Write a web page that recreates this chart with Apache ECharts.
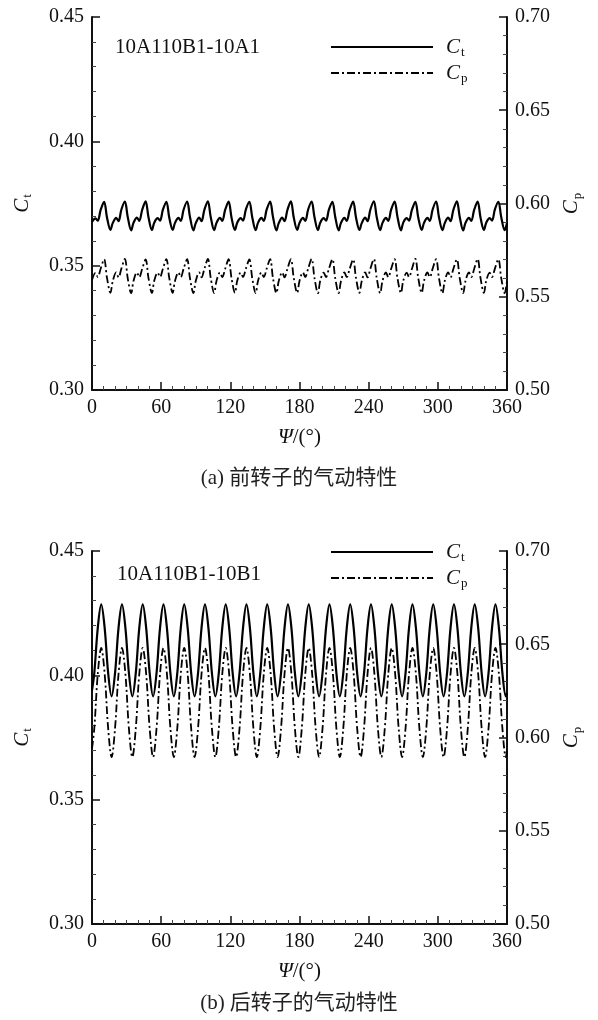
<!DOCTYPE html>
<html>
<head>
<meta charset="utf-8">
<script src="https://cdn.jsdelivr.net/npm/echarts@6/dist/echarts.min.js"></script>
<style>
  html, body { margin: 0; padding: 0; background: #fff; }
  #main { width: 598px; height: 1020px; }
</style>
</head>
<body>
<div id="main"></div>
<script>
// (a) front rotor, Ψ in degrees
const psiA = [
  0, 3, 5, 7.5, 10.5, 13, 16,
  18, 21, 23, 25.5, 28.5, 31, 34,
  36, 39, 41, 43.5, 46.5, 49, 52,
  54, 57, 59, 61.5, 64.5, 67, 70,
  72, 75, 77, 79.5, 82.5, 85, 88,
  90, 93, 95, 97.5, 100.5, 103, 106,
  108, 111, 113, 115.5, 118.5, 121, 124,
  126, 129, 131, 133.5, 136.5, 139, 142,
  144, 147, 149, 151.5, 154.5, 157, 160,
  162, 165, 167, 169.5, 172.5, 175, 178,
  180, 183, 185, 187.5, 190.5, 193, 196,
  198, 201, 203, 205.5, 208.5, 211, 214,
  216, 219, 221, 223.5, 226.5, 229, 232,
  234, 237, 239, 241.5, 244.5, 247, 250,
  252, 255, 257, 259.5, 262.5, 265, 268,
  270, 273, 275, 277.5, 280.5, 283, 286,
  288, 291, 293, 295.5, 298.5, 301, 304,
  306, 309, 311, 313.5, 316.5, 319, 322,
  324, 327, 329, 331.5, 334.5, 337, 340,
  342, 345, 347, 349.5, 352.5, 355, 358,
  360
];
const ctA = [
  0.3676, 0.3690, 0.3681, 0.3724, 0.3757, 0.3694, 0.3644,
  0.3671, 0.3692, 0.3679, 0.3726, 0.3758, 0.3696, 0.3642,
  0.3672, 0.3693, 0.3680, 0.3724, 0.3759, 0.3695, 0.3643,
  0.3673, 0.3691, 0.3681, 0.3725, 0.3757, 0.3694, 0.3644,
  0.3672, 0.3692, 0.3680, 0.3726, 0.3758, 0.3696, 0.3642,
  0.3671, 0.3693, 0.3679, 0.3725, 0.3759, 0.3695, 0.3643,
  0.3672, 0.3692, 0.3680, 0.3724, 0.3758, 0.3694, 0.3644,
  0.3673, 0.3691, 0.3681, 0.3726, 0.3757, 0.3695, 0.3643,
  0.3672, 0.3692, 0.3680, 0.3725, 0.3758, 0.3696, 0.3642,
  0.3671, 0.3693, 0.3679, 0.3724, 0.3759, 0.3694, 0.3644,
  0.3672, 0.3692, 0.3680, 0.3726, 0.3758, 0.3695, 0.3643,
  0.3673, 0.3691, 0.3681, 0.3725, 0.3757, 0.3696, 0.3642,
  0.3672, 0.3692, 0.3680, 0.3724, 0.3758, 0.3694, 0.3644,
  0.3671, 0.3693, 0.3679, 0.3726, 0.3759, 0.3695, 0.3643,
  0.3672, 0.3692, 0.3680, 0.3725, 0.3758, 0.3696, 0.3642,
  0.3673, 0.3691, 0.3681, 0.3724, 0.3757, 0.3694, 0.3644,
  0.3672, 0.3692, 0.3680, 0.3726, 0.3758, 0.3695, 0.3643,
  0.3671, 0.3693, 0.3679, 0.3725, 0.3759, 0.3696, 0.3642,
  0.3672, 0.3692, 0.3680, 0.3724, 0.3758, 0.3694, 0.3644,
  0.3673, 0.3691, 0.3681, 0.3726, 0.3757, 0.3695, 0.3643,
  0.3672
];
const cpA = [
  0.5590, 0.5628, 0.5606, 0.5650, 0.5701, 0.5601, 0.5521,
  0.5584, 0.5631, 0.5604, 0.5651, 0.5703, 0.5599, 0.5519,
  0.5585, 0.5630, 0.5605, 0.5649, 0.5700, 0.5600, 0.5520,
  0.5586, 0.5629, 0.5606, 0.5650, 0.5702, 0.5601, 0.5521,
  0.5585, 0.5630, 0.5605, 0.5651, 0.5701, 0.5599, 0.5519,
  0.5584, 0.5631, 0.5604, 0.5650, 0.5703, 0.5600, 0.5520,
  0.5585, 0.5630, 0.5605, 0.5649, 0.5701, 0.5601, 0.5521,
  0.5586, 0.5629, 0.5606, 0.5651, 0.5700, 0.5600, 0.5519,
  0.5585, 0.5630, 0.5605, 0.5650, 0.5702, 0.5599, 0.5520,
  0.5584, 0.5631, 0.5604, 0.5649, 0.5701, 0.5601, 0.5521,
  0.5585, 0.5630, 0.5605, 0.5651, 0.5703, 0.5600, 0.5519,
  0.5586, 0.5629, 0.5606, 0.5650, 0.5701, 0.5599, 0.5520,
  0.5585, 0.5630, 0.5605, 0.5649, 0.5700, 0.5601, 0.5521,
  0.5584, 0.5631, 0.5604, 0.5651, 0.5702, 0.5600, 0.5519,
  0.5585, 0.5630, 0.5605, 0.5650, 0.5701, 0.5599, 0.5520,
  0.5586, 0.5629, 0.5606, 0.5649, 0.5703, 0.5601, 0.5521,
  0.5585, 0.5630, 0.5605, 0.5651, 0.5701, 0.5600, 0.5519,
  0.5584, 0.5631, 0.5604, 0.5650, 0.5700, 0.5599, 0.5520,
  0.5585, 0.5630, 0.5605, 0.5649, 0.5702, 0.5601, 0.5521,
  0.5586, 0.5629, 0.5606, 0.5651, 0.5701, 0.5600, 0.5519,
  0.5586
];

// (b) rear rotor
const psiB = [
  0, 2, 5, 8, 11, 14, 17,
  20, 23, 26, 29, 32, 35,
  38, 41, 44, 47, 50, 53,
  56, 59, 62, 65, 68, 71,
  74, 77, 80, 83, 86, 89,
  92, 95, 98, 101, 104, 107,
  110, 113, 116, 119, 122, 125,
  128, 131, 134, 137, 140, 143,
  146, 149, 152, 155, 158, 161,
  164, 167, 170, 173, 176, 179,
  182, 185, 188, 191, 194, 197,
  200, 203, 206, 209, 212, 215,
  218, 221, 224, 227, 230, 233,
  236, 239, 242, 245, 248, 251,
  254, 257, 260, 263, 266, 269,
  272, 275, 278, 281, 284, 287,
  290, 293, 296, 299, 302, 305,
  308, 311, 314, 317, 320, 323,
  326, 329, 332, 335, 338, 341,
  344, 347, 350, 353, 356, 359,
  360
];
const ctB = [
  0.394, 0.401, 0.419, 0.4285, 0.419, 0.401, 0.3915,
  0.401, 0.419, 0.4285, 0.419, 0.401, 0.3915,
  0.401, 0.419, 0.4285, 0.419, 0.401, 0.3915,
  0.401, 0.419, 0.4285, 0.419, 0.401, 0.3915,
  0.401, 0.419, 0.4285, 0.419, 0.401, 0.3915,
  0.401, 0.419, 0.4285, 0.419, 0.401, 0.3915,
  0.401, 0.419, 0.4285, 0.419, 0.401, 0.3915,
  0.401, 0.419, 0.4285, 0.419, 0.401, 0.3915,
  0.401, 0.419, 0.4285, 0.419, 0.401, 0.3915,
  0.401, 0.419, 0.4285, 0.419, 0.401, 0.3915,
  0.401, 0.419, 0.4285, 0.419, 0.401, 0.3915,
  0.401, 0.419, 0.4285, 0.419, 0.401, 0.3915,
  0.401, 0.419, 0.4285, 0.419, 0.401, 0.3915,
  0.401, 0.419, 0.4285, 0.419, 0.401, 0.3915,
  0.401, 0.419, 0.4285, 0.419, 0.401, 0.3915,
  0.401, 0.419, 0.4285, 0.419, 0.401, 0.3915,
  0.401, 0.419, 0.4285, 0.419, 0.401, 0.3915,
  0.401, 0.419, 0.4285, 0.419, 0.401, 0.3915,
  0.401, 0.419, 0.4285, 0.419, 0.401, 0.3915,
  0.401, 0.419, 0.4285, 0.419, 0.401, 0.3915,
  0.393
];
const cpB = [
  0.594, 0.605, 0.634, 0.648, 0.634, 0.605, 0.5895,
  0.605, 0.634, 0.648, 0.634, 0.605, 0.5895,
  0.605, 0.634, 0.648, 0.634, 0.605, 0.5895,
  0.605, 0.634, 0.648, 0.634, 0.605, 0.5895,
  0.605, 0.634, 0.648, 0.634, 0.605, 0.5895,
  0.605, 0.634, 0.648, 0.634, 0.605, 0.5895,
  0.605, 0.634, 0.648, 0.634, 0.605, 0.5895,
  0.605, 0.634, 0.648, 0.634, 0.605, 0.5895,
  0.605, 0.634, 0.648, 0.634, 0.605, 0.5895,
  0.605, 0.634, 0.648, 0.634, 0.605, 0.5895,
  0.605, 0.634, 0.648, 0.634, 0.605, 0.5895,
  0.605, 0.634, 0.648, 0.634, 0.605, 0.5895,
  0.605, 0.634, 0.648, 0.634, 0.605, 0.5895,
  0.605, 0.634, 0.648, 0.634, 0.605, 0.5895,
  0.605, 0.634, 0.648, 0.634, 0.605, 0.5895,
  0.605, 0.634, 0.648, 0.634, 0.605, 0.5895,
  0.605, 0.634, 0.648, 0.634, 0.605, 0.5895,
  0.605, 0.634, 0.648, 0.634, 0.605, 0.5895,
  0.605, 0.634, 0.648, 0.634, 0.605, 0.5895,
  0.605, 0.634, 0.648, 0.634, 0.605, 0.5895,
  0.593
];

const xTicks = [0, 60, 120, 180, 240, 300, 360];
const ctTicks = [0.30, 0.35, 0.40, 0.45];
const cpTicks = [0.50, 0.55, 0.60, 0.65, 0.70];
const labelA = "10A110B1-10A1";
const labelB = "10A110B1-10B1";
const captionA = "(a) 前转子的气动特性";
const captionB = "(b) 后转子的气动特性";

const FONT = "Liberation Serif";
const INK = "#111";
const DASHDOT = [8, 3, 2, 3];

const rich = {
  i: { fontFamily: FONT, fontStyle: "italic", fontSize: 21, color: INK, lineHeight: 24 },
  s: { fontFamily: FONT, fontSize: 13, color: INK, verticalAlign: "bottom", lineHeight: 14, padding: [10, 0, 0, 1] }
};
const legendRich = {
  i: { fontFamily: FONT, fontStyle: "italic", fontSize: 21, color: INK, lineHeight: 24, padding: [0, 0, 0, 8] },
  s: { fontFamily: FONT, fontSize: 13, color: INK, verticalAlign: "bottom", lineHeight: 14, padding: [10, 0, 0, 1] }
};

function pairs(xs, ys) {
  return xs.map((x, i) => [x, ys[i]]);
}

const grids = [
  { left: 92, right: 91, top: 17, height: 373 },
  { left: 92, right: 91, top: 551, height: 373 }
];

function xAxis(gi) {
  return {
    type: "value", gridIndex: gi, min: xTicks[0], max: xTicks[xTicks.length - 1], interval: 60,
    name: "{g|Ψ}{n|/(°)}", nameLocation: "middle", nameGap: 37,
    nameTextStyle: { rich: {
      g: { fontFamily: FONT, fontStyle: "italic", fontSize: 21, color: INK },
      n: { fontFamily: FONT, fontSize: 21, color: INK }
    } },
    axisLine: { show: true, lineStyle: { color: INK, width: 2 } },
    axisTick: { show: true, inside: true, length: 8, lineStyle: { color: INK, width: 1.5 } },
    minorTick: { show: true, splitNumber: 6, length: 4, lineStyle: { color: "#444", width: 1 } },
    axisLabel: { fontFamily: FONT, fontSize: 20, color: INK, margin: 8 },
    splitLine: { show: false }
  };
}

function yAxis(gi, side, ticks, nm) {
  return {
    type: "value", gridIndex: gi, position: side,
    min: ticks[0], max: ticks[ticks.length - 1], interval: 0.05,
    name: nm, nameLocation: "middle", nameRotate: 90, nameGap: side === "left" ? 58 : 52,
    nameTextStyle: { rich: rich },
    axisLine: { show: true, lineStyle: { color: INK, width: 2 } },
    axisTick: { show: true, inside: true, length: 8, lineStyle: { color: INK, width: 1.5 } },
    minorTick: { show: true, splitNumber: 5, length: 4, lineStyle: { color: "#444", width: 1 } },
    axisLabel: { fontFamily: FONT, fontSize: 20, color: INK, margin: 8,
      formatter: v => v.toFixed(2) },
    splitLine: { show: false }
  };
}

function legend(top) {
  return {
    left: 330, top: top, padding: 0, orient: "vertical", itemWidth: 102, itemHeight: 20, itemGap: 3,
    selectedMode: false, data: ["Ct", "Cp"],
    itemStyle: { opacity: 0 },
    formatter: n => n === "Ct" ? "{i|C}{s|t}" : "{i|C}{s|p}",
    textStyle: { rich: legendRich }
  };
}

function line(name, xi, yi, data, dashed) {
  return {
    name: name, type: "line", xAxisIndex: xi, yAxisIndex: yi, data: data,
    showSymbol: false, symbol: "none", smooth: 0.35,
    itemStyle: { color: "#000" },
    lineStyle: { color: "#000", width: dashed ? 1.8 : 2.2, type: dashed ? DASHDOT : "solid" }
  };
}

const chart = echarts.init(document.getElementById("main"));
chart.setOption({
  backgroundColor: "#fff",
  animation: false,
  grid: grids,
  xAxis: [xAxis(0), xAxis(1)],
  yAxis: [
    yAxis(0, "left", ctTicks, "{i|C}{s|t}"),
    yAxis(0, "right", cpTicks, "{i|C}{s|p}"),
    yAxis(1, "left", ctTicks, "{i|C}{s|t}"),
    yAxis(1, "right", cpTicks, "{i|C}{s|p}")
  ],
  legend: [legend(36), legend(541)],
  series: [
    line("Ct", 0, 0, pairs(psiA, ctA), false),
    line("Cp", 0, 1, pairs(psiA, cpA), true),
    line("Ct", 1, 2, pairs(psiB, ctB), false),
    line("Cp", 1, 3, pairs(psiB, cpB), true)
  ],
  graphic: [
    { type: "text", left: 115, top: 37, style: { text: labelA, font: "21px " + FONT, fill: INK } },
    { type: "text", left: 117, top: 564, style: { text: labelB, font: "21px " + FONT, fill: INK } },
    { type: "text", left: "center", top: 468, style: { text: captionA, font: "21px 'Liberation Serif', 'Noto Sans CJK SC'", fill: "#222" } },
    { type: "text", left: "center", top: 993, style: { text: captionB, font: "21px 'Liberation Serif', 'Noto Sans CJK SC'", fill: "#222" } }
  ]
});
</script>
</body>
</html>
